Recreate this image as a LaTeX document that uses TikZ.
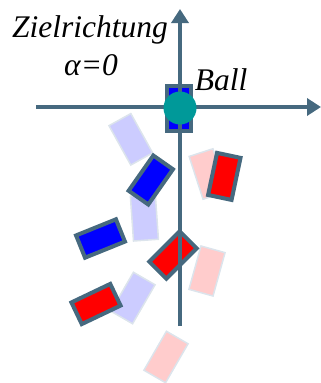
\documentclass[tikz,border=0pt]{standalone}
\usepackage{fontspec}
\setmainfont{Liberation Serif}
\usetikzlibrary{arrows.meta}
\definecolor{axisblue}{HTML}{46697F}
\definecolor{ballteal}{HTML}{009999}
\definecolor{ghostblue}{HTML}{CCCCFF}
\definecolor{ghostred}{HTML}{FFCCCC}
\definecolor{ghostline}{HTML}{DCE4EC}
\begin{document}
\begin{tikzpicture}[x=1pt,y=-1pt,>={Triangle[length=14pt,width=17pt]},
  robot/.style={draw=axisblue,line width=4pt,minimum width=24pt,minimum height=43pt,inner sep=0pt},
  ghost/.style={draw=ghostline,line width=1.5pt,minimum width=25pt,minimum height=45pt,inner sep=0pt},
  lbl/.style={font=\fontsize{31.5}{34}\selectfont\itshape,anchor=base,inner sep=0pt}]
  \useasboundingbox (0,0) rectangle (321,383);
  \node[ghost,fill=ghostblue,rotate=29] (gA) at (130.8,139.3) {};
  \node[ghost,fill=ghostblue,rotate=4] (gC) at (144.4,217.7) {};
  \node[ghost,fill=ghostblue,rotate=-30] (gH) at (133,298) {};
  \node[ghost,fill=ghostred,rotate=18] (gJ) at (208,174) {};
  \node[ghost,fill=ghostred,rotate=-15.5] (gF) at (207,271) {};
  \node[ghost,fill=ghostred,rotate=-30] (gI) at (166,357) {};
  \node[robot,fill=blue,minimum height=45pt] (rBall) at (179,108.5) {};
  \node[robot,fill=blue,rotate=-35] (rB) at (150.8,180) {};
  \node[robot,fill=blue,rotate=-68] (rD) at (100.5,238.5) {};
  \node[robot,fill=red,rotate=-12] (rK) at (224.3,176.4) {};
  \node[robot,fill=red,rotate=-45] (rE) at (173,255) {};
  \node[robot,fill=red,rotate=-64.5] (rG) at (96,304) {};
  \coordinate (xL) at (36,107);
  \coordinate (xR) at (321,107);
  \coordinate (yB) at (180,326);
  \coordinate (yT) at (180,9);
  \draw[->,axisblue,line width=4.5pt] (xL) -- (xR);
  \draw[->,axisblue,line width=4.5pt] (yB) -- (yT);
  \node[circle,fill=ballteal,minimum size=33pt,inner sep=0pt] (ball) at (180,108) {};
  \node[lbl] (goal) at (90,37) {Zielrichtung};
  \node[lbl] (alpha) at (91,75) {α=0};
  \node[lbl] (balltxt) at (221,90) {Ball};
\end{tikzpicture}
\end{document}
